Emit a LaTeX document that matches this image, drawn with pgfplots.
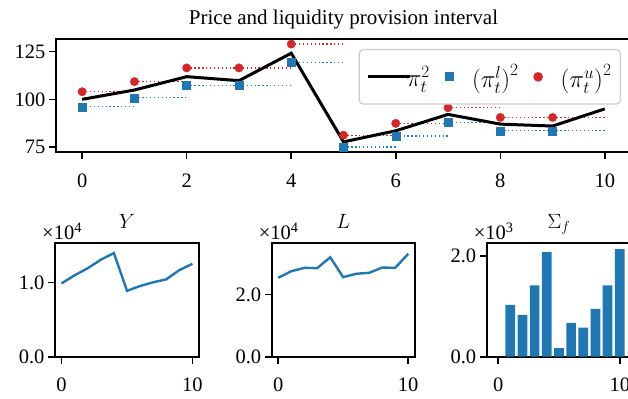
\documentclass[border=0pt]{standalone}
\usepackage{fontspec}
\setmainfont{Liberation Serif}
\usepackage{pgfplots}
\usepackage{pgfplotstable}
\pgfplotsset{compat=1.18}

\definecolor{tabblue}{HTML}{1F77B4}
\definecolor{tabred}{HTML}{D62728}
\newcommand{\tfont}{\fontsize{20.5bp}{24bp}\selectfont}

% t, price^2, lower^2, upper^2
\pgfplotstableread{
t  pi     lo     up
0  100.0  96.1   104.0
1  104.9  100.8  109.3
2  111.9  107.4  116.5
3  109.8  107.4  116.5
4  124.2  119.3  129.0
5  77.7   75.0   81.2
6  83.5   80.8   87.4
7  92.1   88.0   95.6
8  87.0   83.5   90.5
9  86.0   83.5   90.5
10 95.0   nan    nan
}\toptable

\pgfplotstableread{
t  Y      L      S
0  9900   25400  0
1  11000  27500  1030
2  11950  28600  830
3  13100  28500  1420
4  14000  32000  2080
5  8900   25600  170
6  9550   26700  670
7  10050  27000  580
8  10450  28700  950
9  11700  28600  1420
10 12550  33100  2140
}\bottable

\pgfplotsset{
  base/.style={
    scale only axis,
    axis line style={line width=1.7bp},
    tick align=outside,
    major tick length=7bp,
    every tick/.style={line width=1.6bp, black},
    xtick pos=bottom, ytick pos=left,
    scaled ticks=false,
    tick label style={font=\tfont},
    xticklabel style={yshift=-11bp},
    /pgf/number format/assume math mode=true,
    title style={font=\tfont, at={(0.5,1)}, anchor=base, yshift=9bp},
  },
  small/.style={
    base,
    width=144bp, height=113.4bp,
    xmin=-0.5, xmax=10.5, xtick={0,10},
    ymin=0,
  },
  sci/.style={
    extra description/.code={
      \node[anchor=south west, inner sep=0pt, font=\tfont]
        at ([xshift=-13bp,yshift=3bp]rel axis cs:0,1) {×10\textsuperscript{#1}};
    },
  },
}

\begin{document}
\begin{tikzpicture}
% top panel
\begin{axis}[
  base,
  at={(56bp,247bp)}, anchor=south west,
  width=575bp, height=113bp,
  xmin=-0.5, xmax=10.5, ymin=72.38, ymax=131.66,
  xtick={0,2,...,10}, ytick={75,100,125},
  title={\fontsize{21bp}{24bp}\selectfont Price and liquidity provision interval},
  title style={yshift=0bp},
  legend columns=3,
  legend style={at={(1,1)}, anchor=north east, xshift=-10bp, yshift=-10bp,
    draw=black!20, line width=1.2bp, rounded corners=4bp, fill=white,
    font=\fontsize{23bp}{27bp}\selectfont, inner xsep=7bp, inner ysep=13bp,
    /tikz/every odd column/.append style={column sep=2bp},
    /tikz/every even column/.append style={column sep=9bp}},
]
\addplot[tabred, line width=1.3bp, dash pattern=on 1.3bp off 2.6bp, forget plot, unbounded coords=jump]
  coordinates {(0,104.0) (1,104.0) (1,nan) (1,109.3) (2,109.3) (2,nan) (2,116.5) (3,116.5) (3,nan)
  (3,116.5) (4,116.5) (4,nan) (4,129.0) (5,129.0) (5,nan) (5,81.2) (6,81.2) (6,nan)
  (6,87.4) (7,87.4) (7,nan) (7,95.6) (8,95.6) (8,nan) (8,90.5) (9,90.5) (9,nan) (9,90.5) (10,90.5)};
\addplot[tabblue, line width=1.3bp, dash pattern=on 1.3bp off 2.6bp, forget plot, unbounded coords=jump]
  coordinates {(0,96.1) (1,96.1) (1,nan) (1,100.8) (2,100.8) (2,nan) (2,107.4) (3,107.4) (3,nan)
  (3,107.4) (4,107.4) (4,nan) (4,119.3) (5,119.3) (5,nan) (5,75.0) (6,75.0) (6,nan)
  (6,80.8) (7,80.8) (7,nan) (7,88.0) (8,88.0) (8,nan) (8,83.5) (9,83.5) (9,nan) (9,83.5) (10,83.5)};
\addplot[black, line width=3bp, no markers,
  legend image code/.code={\draw[black, line width=3bp] (0bp,0bp) -- (33.5bp,0bp);
    \draw[black, line width=3bp, overlay] (33.5bp,0bp) -- (42bp,0bp);}]
  table[x=t, y=pi] {\toptable};
\addlegendentry{$\pi_t^2$}
\addplot[only marks, mark=square*, mark size=4bp, tabblue,
  legend image code/.code={\path (0bp,0bp) (26bp,0bp);
    \path plot[mark=square*, mark size=4bp] coordinates {(8bp,0bp)};}]
  table[x=t, y=lo] {\toptable};
\addlegendentry{$\bigl(\pi_t^l\bigr)^2$}
\addplot[only marks, mark=*, mark size=4.2bp, tabred,
  legend image code/.code={\path (0bp,0bp) (26bp,0bp);
    \path plot[mark=*, mark size=4.2bp] coordinates {(8bp,0bp)};}]
  table[x=t, y=up] {\toptable};
\addlegendentry{$\bigl(\pi_t^u\bigr)^2$}
\end{axis}

% Y
\begin{axis}[
  small, sci=4,
  at={(55bp,42.3bp)}, anchor=south west,
  ymax=15320, ytick={0,10000}, yticklabels={0.0,1.0},
  title={$Y$},
]
\addplot[tabblue, line width=2.4bp, no markers] table[x=t, y=Y] {\bottable};
\end{axis}

% L
\begin{axis}[
  small, sci=4,
  at={(271.7bp,42.3bp)}, anchor=south west,
  width=143bp,
  ymax=36500, ytick={0,20000}, yticklabels={0.0,2.0},
  title={$L$},
]
\addplot[tabblue, line width=2.4bp, no markers] table[x=t, y=L] {\bottable};
\end{axis}

% Sigma_f
\begin{axis}[
  small, sci=3,
  at={(486.7bp,42.3bp)}, anchor=south west,
  width=144.5bp,
  xmin=-0.94, xmax=10.94,
  ymax=2254, ytick={0,2000}, yticklabels={0.0,2.0},
  title={$\Sigma_f$},
]
\addplot[ybar, bar width=0.8, fill=tabblue, draw=none, bar shift=0pt] table[x=t, y=S] {\bottable};
\end{axis}

\pgfresetboundingbox
\path[use as bounding box] (0bp,0bp) rectangle (628bp,399bp);
\end{tikzpicture}
\end{document}
